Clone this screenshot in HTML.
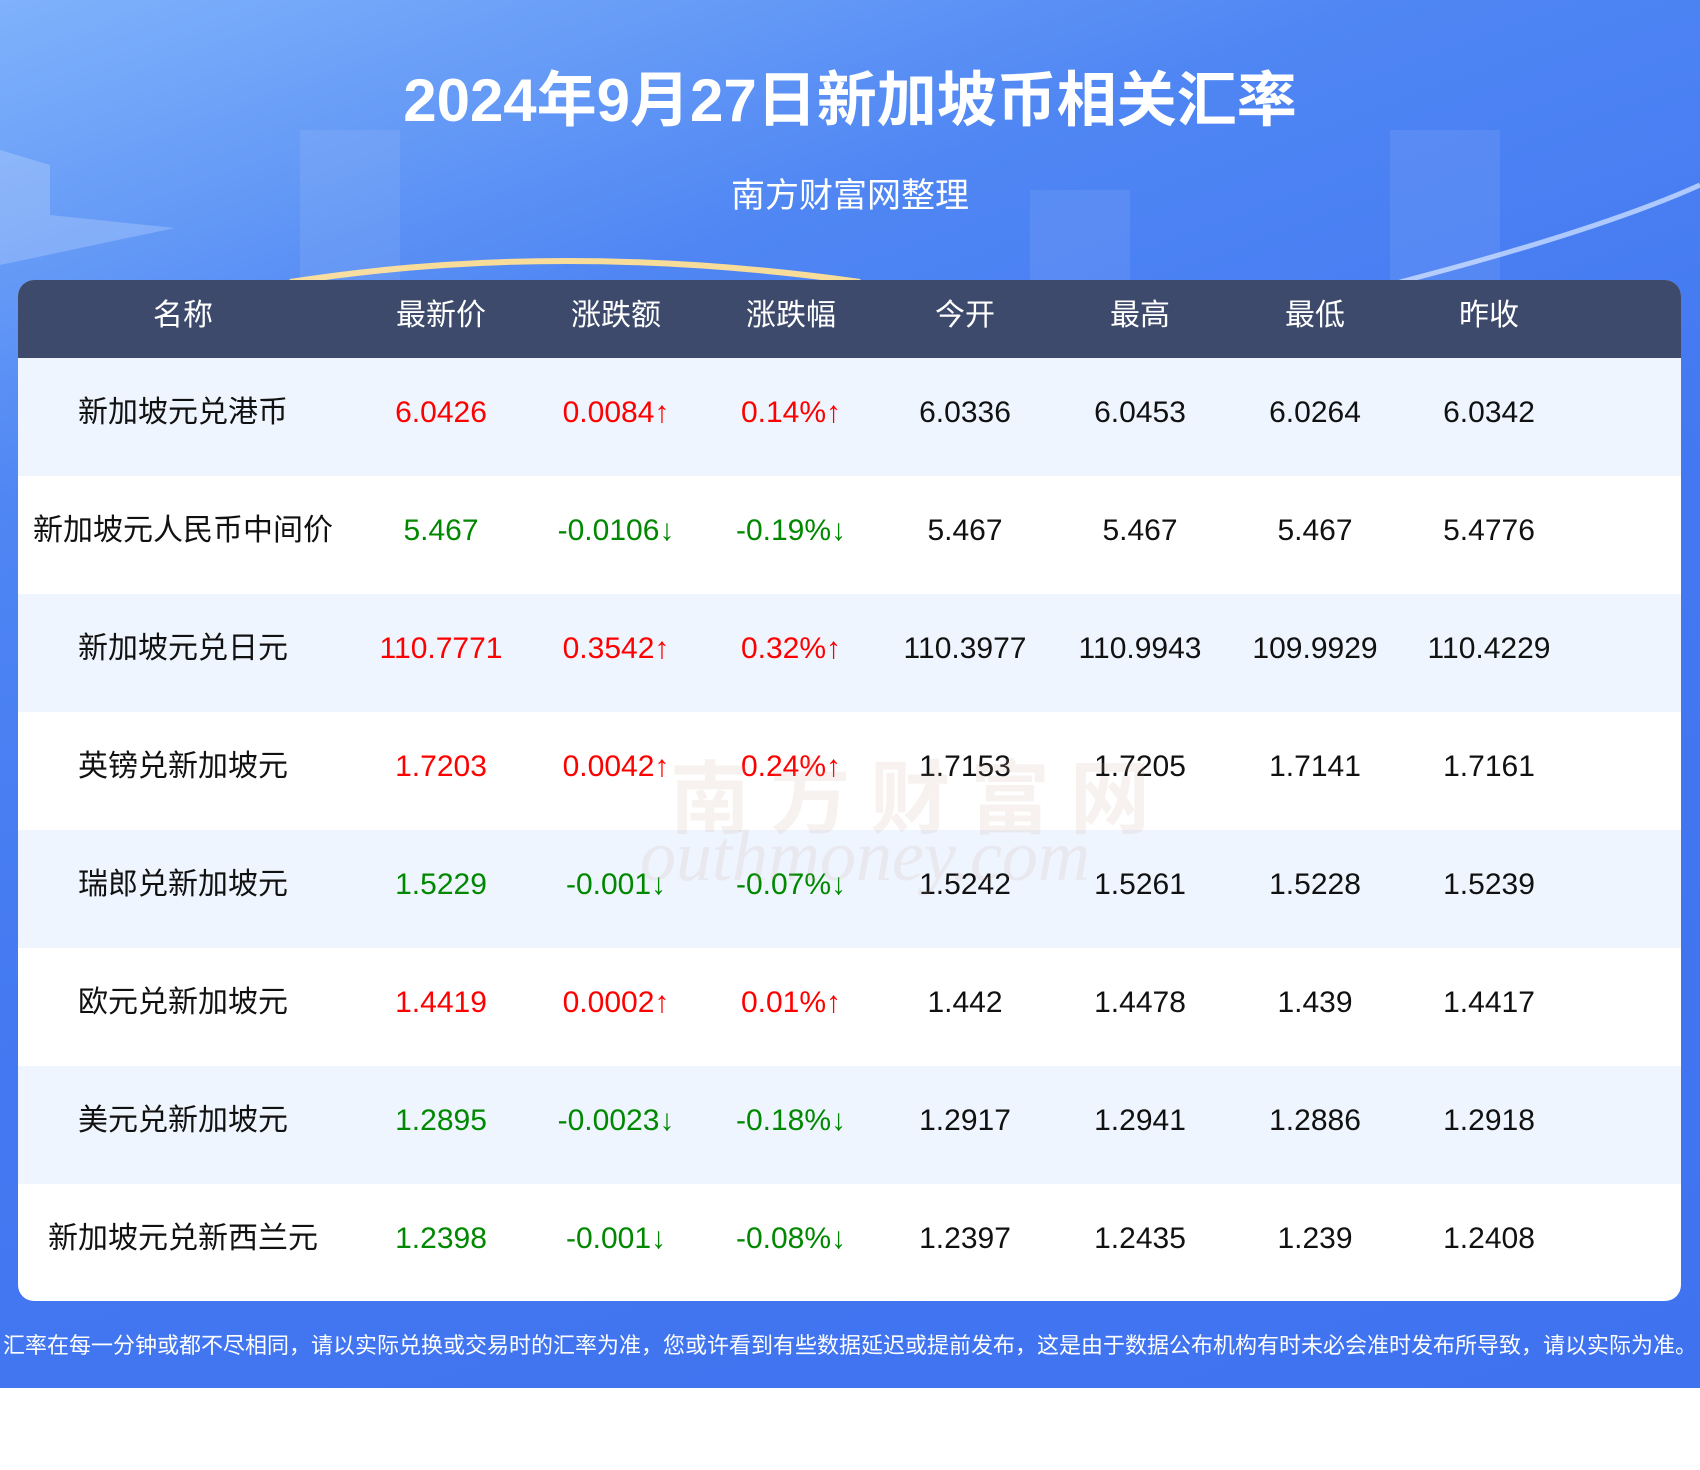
<!DOCTYPE html>
<html><head><meta charset="utf-8"><style>
*{margin:0;padding:0;box-sizing:border-box}
body{width:1700px;height:1470px;background:#fff;font-family:"Liberation Sans","Noto Sans CJK SC",sans-serif;position:relative;overflow:hidden}
#bg{position:absolute;left:0;top:0;width:1700px;height:1388px;background:linear-gradient(160deg,#7fb2fb 0%,#4f86f3 25%,#4479f2 50%,#3f72ef 100%)}
#title{position:absolute;top:52px;width:1700px;text-align:center;color:#fff;font-size:60px;font-weight:bold}
#sub{position:absolute;top:168px;width:1700px;text-align:center;color:#fff;font-size:34px}
#tbl{position:absolute;left:18px;top:280px;width:1663px;height:1021px;background:#fff;border-radius:16px;overflow:hidden}
.row{position:absolute;left:0;width:1663px;height:118px}
.row span{position:absolute;top:-4px;line-height:118px;font-size:30px;transform:translateX(-50%);white-space:nowrap;color:#111}
.hd{height:78px;top:0;background:#3d4a6b}
.hd span{top:0;line-height:72px;color:#fff;font-size:30px}
.r{color:#f00!important}.g{color:#080!important}
#foot{position:absolute;top:1328px;width:1700px;text-align:center;color:#fff;font-size:22px;white-space:nowrap}
</style></head><body>
<div id="bg"></div>
<svg style="position:absolute;left:0;top:0" width="1700" height="290">
<path d="M290 282 Q560 240 860 282" stroke="#f8dc9a" stroke-width="6" fill="none"/>
<path d="M1400 282 Q1600 230 1700 185" stroke="#c8dcff" stroke-width="5" fill="none" opacity=".8"/>
<rect x="300" y="130" width="100" height="150" fill="#fff" opacity=".08"/>
<rect x="1030" y="190" width="100" height="90" fill="#fff" opacity=".08"/>
<rect x="1390" y="130" width="110" height="150" fill="#fff" opacity=".08"/>
<path d="M0 150 L50 165 L50 215 L175 228 L0 265Z" fill="#fff" opacity=".2"/>
</svg>
<div id="title">2024年9月27日新加坡币相关汇率</div>
<div id="sub">南方财富网整理</div>
<div id="tbl">
<div class="row hd"><span style="left:165px">名称</span><span style="left:423px">最新价</span><span style="left:598px">涨跌额</span><span style="left:773px">涨跌幅</span><span style="left:947px">今开</span><span style="left:1122px">最高</span><span style="left:1297px">最低</span><span style="left:1471px">昨收</span></div>
<div class="row" style="top:78px;background:#eef5fe"><span style="left:165px">新加坡元兑港币</span><span class="r" style="left:423px">6.0426</span><span class="r" style="left:598px">0.0084↑</span><span class="r" style="left:773px">0.14%↑</span><span style="left:947px">6.0336</span><span style="left:1122px">6.0453</span><span style="left:1297px">6.0264</span><span style="left:1471px">6.0342</span></div>
<div class="row" style="top:196px"><span style="left:165px">新加坡元人民币中间价</span><span class="g" style="left:423px">5.467</span><span class="g" style="left:598px">-0.0106↓</span><span class="g" style="left:773px">-0.19%↓</span><span style="left:947px">5.467</span><span style="left:1122px">5.467</span><span style="left:1297px">5.467</span><span style="left:1471px">5.4776</span></div>
<div class="row" style="top:314px;background:#eef5fe"><span style="left:165px">新加坡元兑日元</span><span class="r" style="left:423px">110.7771</span><span class="r" style="left:598px">0.3542↑</span><span class="r" style="left:773px">0.32%↑</span><span style="left:947px">110.3977</span><span style="left:1122px">110.9943</span><span style="left:1297px">109.9929</span><span style="left:1471px">110.4229</span></div>
<div class="row" style="top:432px"><span style="left:165px">英镑兑新加坡元</span><span class="r" style="left:423px">1.7203</span><span class="r" style="left:598px">0.0042↑</span><span class="r" style="left:773px">0.24%↑</span><span style="left:947px">1.7153</span><span style="left:1122px">1.7205</span><span style="left:1297px">1.7141</span><span style="left:1471px">1.7161</span></div>
<div class="row" style="top:550px;background:#eef5fe"><span style="left:165px">瑞郎兑新加坡元</span><span class="g" style="left:423px">1.5229</span><span class="g" style="left:598px">-0.001↓</span><span class="g" style="left:773px">-0.07%↓</span><span style="left:947px">1.5242</span><span style="left:1122px">1.5261</span><span style="left:1297px">1.5228</span><span style="left:1471px">1.5239</span></div>
<div class="row" style="top:668px"><span style="left:165px">欧元兑新加坡元</span><span class="r" style="left:423px">1.4419</span><span class="r" style="left:598px">0.0002↑</span><span class="r" style="left:773px">0.01%↑</span><span style="left:947px">1.442</span><span style="left:1122px">1.4478</span><span style="left:1297px">1.439</span><span style="left:1471px">1.4417</span></div>
<div class="row" style="top:786px;background:#eef5fe"><span style="left:165px">美元兑新加坡元</span><span class="g" style="left:423px">1.2895</span><span class="g" style="left:598px">-0.0023↓</span><span class="g" style="left:773px">-0.18%↓</span><span style="left:947px">1.2917</span><span style="left:1122px">1.2941</span><span style="left:1297px">1.2886</span><span style="left:1471px">1.2918</span></div>
<div class="row" style="top:904px"><span style="left:165px">新加坡元兑新西兰元</span><span class="g" style="left:423px">1.2398</span><span class="g" style="left:598px">-0.001↓</span><span class="g" style="left:773px">-0.08%↓</span><span style="left:947px">1.2397</span><span style="left:1122px">1.2435</span><span style="left:1297px">1.239</span><span style="left:1471px">1.2408</span></div>
</div>
<div style="position:absolute;left:670px;top:735px;font-size:80px;font-weight:bold;color:rgba(200,160,150,.15);letter-spacing:20px">南方财富网</div>
<div style="position:absolute;left:640px;top:815px;font-size:72px;font-style:italic;font-family:'Liberation Serif',serif;color:rgba(200,160,150,.15)">outhmoney.com</div>
<div id="foot">汇率在每一分钟或都不尽相同，请以实际兑换或交易时的汇率为准，您或许看到有些数据延迟或提前发布，这是由于数据公布机构有时未必会准时发布所导致，请以实际为准。</div>
</body></html>
